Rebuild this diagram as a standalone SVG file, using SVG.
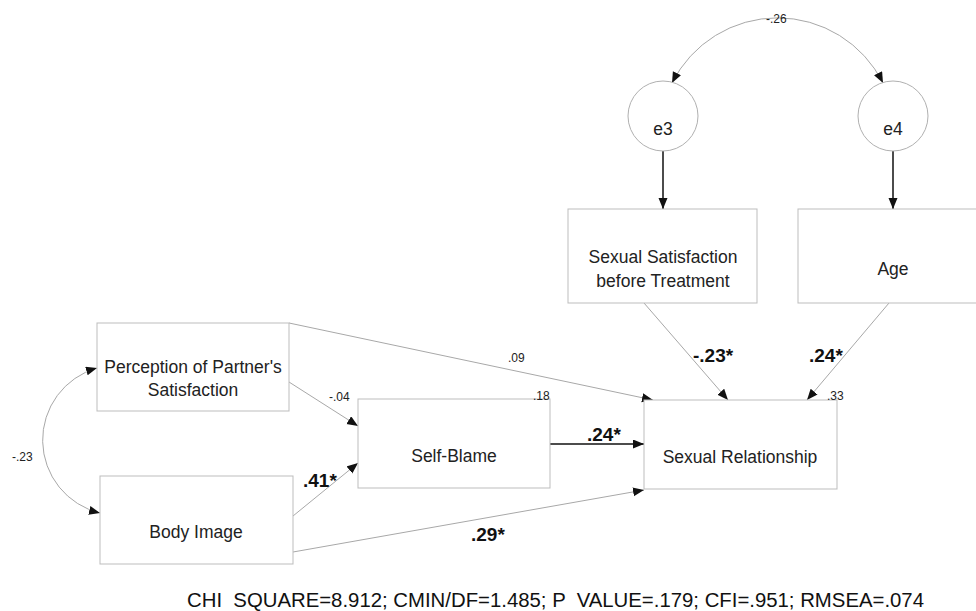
<svg xmlns="http://www.w3.org/2000/svg" width="976" height="611" viewBox="0 0 976 611">
<style>
.box{fill:#fff;stroke:#bdbdbd;stroke-width:1}
.circ{fill:#fff;stroke:#b0b0b0;stroke-width:1}
.lbl{font-family:"Liberation Sans",Arial,sans-serif;font-size:17.5px;fill:#222;text-anchor:middle}
.sm{font-family:"Liberation Sans",Arial,sans-serif;font-size:12px;fill:#222}
.bd{font-family:"Liberation Sans",Arial,sans-serif;font-size:19px;font-weight:bold;fill:#111}
.thin{fill:none;stroke:#a8a8a8;stroke-width:1;marker-end:url(#ah)}
.thick{fill:none;stroke:#111;stroke-width:1.5;marker-end:url(#ah)}
.cov{fill:none;stroke:#a8a8a8;stroke-width:1;marker-start:url(#ah);marker-end:url(#ah)}
</style>
<defs>
<marker id="ah" markerUnits="userSpaceOnUse" markerWidth="12" markerHeight="10" refX="11" refY="4.5" orient="auto-start-reverse">
<path d="M0,0 L11,4.5 L0,9 z" fill="#111"/>
</marker>
</defs>
<rect width="976" height="611" fill="#fff"/>
<g id="connectors">
<path class="cov" d="M672,83 A118,118 0 0 1 883,83"/>
<path class="cov" d="M97,368 A75,75 0 0 0 100,513"/>
<line class="thick" x1="663" y1="151" x2="663" y2="209"/>
<line class="thick" x1="893" y1="151" x2="893" y2="209"/>
<line class="thin" x1="289" y1="382" x2="358" y2="426"/>
<line class="thin" x1="293" y1="516" x2="358" y2="463"/>
<line class="thin" x1="289" y1="323" x2="653" y2="400"/>
<line class="thick" x1="550" y1="444" x2="644" y2="444"/>
<line class="thin" x1="293" y1="552" x2="644" y2="490"/>
<line class="thin" x1="644" y1="303" x2="728" y2="400"/>
<line class="thin" x1="889" y1="303" x2="807" y2="400"/>
</g>
<g id="e3">
<circle class="circ" cx="663" cy="116" r="35"/>
<text class="lbl" x="663" y="135">e3</text>
</g>
<g id="e4">
<circle class="circ" cx="893" cy="116" r="35"/>
<text class="lbl" x="893" y="135">e4</text>
</g>
<g id="sst">
<rect class="box" x="568" y="209" width="189" height="94"/>
<text class="lbl" x="663" y="263">Sexual Satisfaction</text>
<text class="lbl" x="663" y="287">before Treatment</text>
</g>
<g id="age">
<rect class="box" x="798" y="209" width="190" height="94"/>
<text class="lbl" x="893" y="275">Age</text>
</g>
<g id="perception">
<rect class="box" x="97" y="323" width="192" height="88"/>
<text class="lbl" x="193" y="373">Perception of Partner's</text>
<text class="lbl" x="193" y="396">Satisfaction</text>
</g>
<g id="body">
<rect class="box" x="100" y="476" width="193" height="88"/>
<text class="lbl" x="196" y="538">Body Image</text>
</g>
<g id="selfblame">
<rect class="box" x="358" y="399" width="192" height="89"/>
<text class="lbl" x="454" y="462">Self-Blame</text>
</g>
<g id="sexrel">
<rect class="box" x="644" y="400" width="193" height="89"/>
<text class="lbl" x="740" y="463">Sexual Relationship</text>
</g>
<g id="labels">
<text class="sm" x="766" y="23">-.26</text>
<text class="sm" x="12" y="461">-.23</text>
<text class="sm" x="329" y="401">-.04</text>
<text class="sm" x="508" y="362">.09</text>
<text class="sm" x="533" y="400">.18</text>
<text class="sm" x="827" y="400">.33</text>
<text class="bd" x="303" y="487">.41*</text>
<text class="bd" x="587" y="441">.24*</text>
<text class="bd" x="471" y="541">.29*</text>
<text class="bd" x="693" y="362">-.23*</text>
<text class="bd" x="809" y="362">.24*</text>
<text x="187" y="607" font-family="'Liberation Sans',Arial,sans-serif" font-size="19.5" fill="#111" textLength="737" lengthAdjust="spacingAndGlyphs" xml:space="preserve">CHI  SQUARE=8.912; CMIN/DF=1.485; P  VALUE=.179; CFI=.951; RMSEA=.074</text>
</g>
</svg>
